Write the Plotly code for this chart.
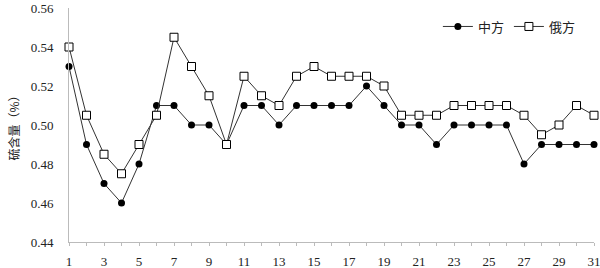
import plotly.graph_objects as go

days = list(range(1, 32))
china = [0.53, 0.49, 0.47, 0.46, 0.48, 0.51, 0.51, 0.50, 0.50, 0.49,
         0.51, 0.51, 0.50, 0.51, 0.51, 0.51, 0.51, 0.52, 0.51, 0.50,
         0.50, 0.49, 0.50, 0.50, 0.50, 0.50, 0.48, 0.49, 0.49, 0.49, 0.49]
russia = [0.54, 0.505, 0.485, 0.475, 0.49, 0.505, 0.545, 0.53, 0.515, 0.49,
          0.525, 0.515, 0.51, 0.525, 0.53, 0.525, 0.525, 0.525, 0.52, 0.505,
          0.505, 0.505, 0.51, 0.51, 0.51, 0.51, 0.505, 0.495, 0.50, 0.51, 0.505]
series_names = ["中方", "俄方"]
y_ticks = [0.44, 0.46, 0.48, 0.50, 0.52, 0.54, 0.56]
y_ticktext = ["0.44", "0.46", "0.48", "0.50", "0.52", "0.54", "0.56"]
x_ticks = list(range(1, 32, 2))

serif = "Liberation Serif, Noto Sans CJK SC, serif"

fig = go.Figure()
fig.add_trace(go.Scatter(
    x=days, y=china, name=series_names[0], mode="lines+markers",
    line=dict(color="#333333", width=1),
    marker=dict(symbol="circle", size=7, color="black"),
    cliponaxis=False,
))
fig.add_trace(go.Scatter(
    x=days, y=russia, name=series_names[1], mode="lines+markers",
    line=dict(color="#333333", width=1),
    marker=dict(symbol="square", size=8, color="white", line=dict(color="black", width=1)),
    cliponaxis=False,
))

fig.update_layout(
    width=600, height=268,
    margin=dict(l=69, r=6, t=8, b=26, autoexpand=False),
    paper_bgcolor="white", plot_bgcolor="white",
    font=dict(family=serif, size=13, color="#222222"),
    legend=dict(orientation="h", x=0.975, y=0.985, xanchor="right", yanchor="top",
                font=dict(family="Noto Sans CJK SC", size=13), itemwidth=30,
                bgcolor="rgba(0,0,0,0)"),
    showlegend=True,
)
fig.update_xaxes(
    range=[1, 31], tickvals=x_ticks, showgrid=False, zeroline=False,
    showline=True, linecolor="#bbbbbb", linewidth=1,
    ticks="outside", ticklen=3, tickcolor="#bbbbbb",
    minor=dict(tickvals=days, ticks="outside", ticklen=3, tickcolor="#bbbbbb"),
    tickfont=dict(family=serif, size=13), automargin=False,
    ticklabeloverflow="allow", ticklabelstandoff=4,
)
fig.update_yaxes(
    range=[0.44, 0.56], tickvals=y_ticks, ticktext=y_ticktext,
    showgrid=False, zeroline=False, showline=True, linecolor="#bbbbbb", linewidth=1,
    ticks="outside", ticklen=12, tickcolor="rgba(0,0,0,0)",
    tickfont=dict(family=serif, size=13), automargin=False,
    title=dict(text="硫含量（%）", font=dict(family="Noto Sans CJK SC", size=12), standoff=8),
)

fig.write_html("out.html", config={"displayModeBar": False},
               post_script="document.body.style.margin='0';document.body.style.overflow='hidden';")
